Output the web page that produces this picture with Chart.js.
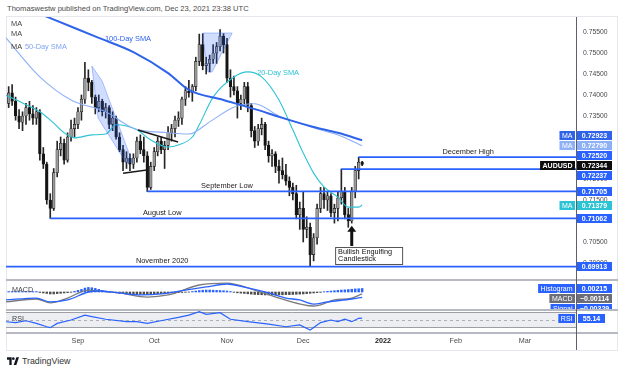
<!DOCTYPE html>
<html>
<head>
<meta charset="utf-8">
<script src="https://cdn.jsdelivr.net/npm/chart.js@4.4.1/dist/chart.umd.min.js"></script>
<style>
  body { margin: 0; background: #fff; font-family: "Liberation Sans", Arial, sans-serif; }
  #page { position: relative; width: 624px; height: 373px; overflow: hidden; }
  .abs { position: absolute; }
  #title { left: 7px; top: 4px; font-size: 7.6px; color: #4a4a4a; white-space: nowrap; }
  #frame { left: 6px; top: 16px; width: 612px; height: 335px; border: 1px solid #e6e8ed; box-sizing: border-box; }
  .sep { left: 6px; width: 612px; height: 2px; background: #b6b9c2; }
  #vsep { left: 576px; top: 17px; width: 1px; height: 333px; background: #5d606b; }
  canvas { position: absolute; }
  #logo { left: 7px; top: 356px; font-size: 8.8px; color: #333; white-space: nowrap; }
  #logo svg { vertical-align: -1px; margin-right: 3px; }
</style>
</head>
<body>
<div id="page">
  <div id="title" class="abs">Thomaswestw published on TradingView.com, Dec 23, 2021 23:38 UTC</div>
  <div id="frame" class="abs"></div>
  <canvas id="mainChart" width="612" height="263" style="left:6px;top:17px"></canvas>
  <canvas id="macdChart" width="612" height="29" style="left:6px;top:281px"></canvas>
  <canvas id="rsiChart" width="612" height="39" style="left:6px;top:311px"></canvas>
  <div class="abs sep" style="top:279px"></div>
  <div class="abs sep" style="top:309px"></div>
  <div class="abs sep" style="top:332px"></div>
  <div id="vsep" class="abs"></div>
  <div id="logo" class="abs"><svg width="12" height="8" viewBox="0 0 36 24"><path d="M14 24H7V8H0V1h14z" fill="#131722"/><circle cx="19" cy="5" r="4" fill="#131722"/><path d="M28 24h-8l8-23h8z" fill="#131722"/></svg>TradingView</div>
</div>
<script>
"use strict";
const FONT = '"Liberation Sans", Arial, sans-serif';
Chart.defaults.font.family = FONT;

// daily candles, Aug 4 2021 .. Dec 24 2021 (bar index 1..103)
const opens = [
  .7380, .7405, .7385, .7350, .7335, .7350, .7370, .7355, .7345, .7360,
  .7260, .7235, .7150, .7130, .7215, .7270, .7285, .7245, .7300, .7320,
  .7330, .7360, .7390, .7440, .7430, .7395, .7370, .7385, .7360, .7370,
  .7330, .7345, .7300, .7270, .7240, .7250, .7235, .7250, .7290, .7270,
  .7255, .7180, .7230, .7265, .7290, .7270, .7280, .7310, .7320, .7340,
  .7345, .7390, .7410, .7405, .7420, .7480, .7520, .7470, .7475, .7485,
  .7500, .7515, .7540, .7520, .7440, .7420, .7410, .7380, .7390, .7420,
  .7375, .7315, .7290, .7320, .7330, .7280, .7255, .7260, .7230, .7220,
  .7210, .7195, .7180, .7165, .7115, .7130, .7080, .7085, .7020, .7060,
  .7130, .7165, .7150, .7160, .7120, .7130, .7155, .7170, .7115, .7100,
  .7170, .7220, .7240
];
const highs = [
  .7420, .7425, .7395, .7365, .7360, .7380, .7385, .7375, .7370, .7365,
  .7275, .7240, .7165, .7225, .7290, .7300, .7295, .7310, .7340, .7345,
  .7370, .7400, .7478, .7460, .7435, .7400, .7400, .7390, .7380, .7375,
  .7360, .7350, .7310, .7280, .7265, .7260, .7260, .7300, .7305, .7300,
  .7265, .7240, .7275, .7300, .7300, .7290, .7325, .7330, .7350, .7360,
  .7395, .7420, .7435, .7425, .7490, .7545, .7546, .7490, .7495, .7520,
  .7525, .7556, .7546, .7535, .7460, .7445, .7420, .7400, .7430, .7430,
  .7380, .7325, .7330, .7345, .7335, .7290, .7270, .7265, .7245, .7250,
  .7235, .7205, .7190, .7185, .7145, .7170, .7110, .7095, .7070, .7140,
  .7180, .7180, .7170, .7165, .7140, .7170, .72237, .7180, .7130, .7180,
  .7230, .7252, .7242
];
const lows = [
  .7370, .7375, .7340, .7320, .7315, .7330, .7340, .7330, .7330, .7245,
  .7225, .7140, .7106, .7125, .7205, .7255, .7235, .7240, .7290, .7300,
  .7320, .7340, .7380, .7410, .7380, .7355, .7360, .7350, .7345, .7320,
  .7315, .7295, .7265, .7220, .7225, .7220, .7225, .7240, .7260, .7240,
  .7170, .7175, .7220, .7255, .7260, .7225, .7270, .7290, .7300, .7325,
  .7330, .7375, .7395, .7385, .7410, .7470, .7460, .7450, .7455, .7475,
  .7475, .7505, .7500, .7430, .7395, .7400, .7345, .7365, .7375, .7360,
  .7300, .7275, .7280, .7305, .7270, .7240, .7230, .7215, .7190, .7200,
  .7185, .7160, .7150, .7105, .7080, .7050, .7060, .6993, .7005, .7045,
  .7120, .7130, .7125, .7110, .7095, .7100, .7140, .7105, .7085, .7095,
  .7155, .7200, .7232
];
const closes = [
  .7405, .7385, .7350, .7335, .7350, .7370, .7355, .7345, .7360, .7260,
  .7235, .7150, .7130, .7215, .7270, .7285, .7245, .7300, .7320, .7330,
  .7360, .7390, .7440, .7430, .7395, .7370, .7385, .7360, .7370, .7330,
  .7345, .7300, .7270, .7240, .7250, .7235, .7250, .7290, .7270, .7255,
  .7180, .7230, .7265, .7290, .7270, .7280, .7310, .7320, .7340, .7345,
  .7390, .7410, .7405, .7420, .7480, .7520, .7470, .7475, .7485, .7500,
  .7515, .7540, .7520, .7440, .7420, .7410, .7380, .7390, .7420, .7375,
  .7315, .7290, .7320, .7330, .7280, .7255, .7260, .7230, .7220, .7210,
  .7195, .7180, .7165, .7115, .7130, .7080, .7085, .7020, .7060, .7130,
  .7165, .7150, .7160, .7120, .7130, .7155, .7170, .7115, .7100, .7170,
  .7220, .7240, .72344
];
const candleIdx = closes.map((_, k) => k + 1);

// moving averages: [bar index, value]
const sma100 = [[1, .7624], [13, .7583], [27, .7536], [37, .7502], [47, .7452], [53, .7412],
  [63, .7388], [73, .7364], [79, .7348], [89, .7324], [96, .7310], [103, .72923]];
const sma50 = [[0, .7538], [10, .7443], [19, .7388], [29, .7360], [37, .7321], [47, .7310],
  [53, .7307], [59, .7336], [66, .7371], [72, .7379], [79, .7350], [89, .7322], [97, .7302], [103, .72790]];
const sma20 = [[0, .7400], [5, .7381], [10, .7360], [14, .7333], [17, .7310], [20, .7298], [25, .7305],
  [29, .7307], [32, .7329], [38, .7317], [42, .7293], [47, .7276], [50, .7281], [54, .7300], [56, .7329],
  [60, .7395], [66, .7443], [70, .7455], [74, .7443], [79, .7388], [83, .7317], [86, .7262], [89, .7214],
  [92, .7181], [96, .7157], [99, .7133], [102, .7133], [103, .71379]];

// horizontal levels
const levelPrices = [0.72520, 0.72237, 0.71705, 0.71062, 0.69913];
const levelStartIdx = [102, 97, 41, 13, 0];
const levelNames = ['December High', '', 'September Low', 'August Low', 'November 2020'];

// MACD pane
const macdLine = [[0, -.0061], [9, -.0043], [13, -.0067], [18, -.0037], [24, .0012], [27, .0006], [33, -.0006],
  [41, -.0031], [47, -.0018], [56, .0043], [64, .0055], [72, .0012], [79, -.0037], [89, -.0086], [95, -.0049],
  [100, -.0037], [103, -.00114]];
const signalLine = [[0, -.0049], [9, -.0037], [13, -.0061], [18, -.0049], [24, 0], [27, .0006], [33, -.0006],
  [39, -.0018], [45, -.0012], [52, .0012], [58, .0031], [64, .0049], [70, .0025], [76, -.0006], [81, -.0037],
  [85, -.0049], [89, -.0074], [93, -.0061], [100, -.0043], [103, -.00329]];
const histogram = [
  .0003, .0003, .0003, .0003, .0003, .0003, .0003, .0003, .0003,
  -.0003, -.0006, -.0009, -.0012, -.0012, -.0010, -.0008, -.0006, -.0004, -.0002,
  .0004, .0010, .0016, .0024, .0028, .0026, .0022, .0016, .0010,
  .0005, .0002, -.0002,
  -.0005, -.0008, -.0010, -.0012, -.0014, -.0015, -.0015, -.0014, -.0015, -.0016, -.0015,
  -.0013, -.0011, -.0010, -.0008, -.0007, -.0006, -.0005, -.0004, -.0003, -.0002, -.0001,
  .0003, .0006, .0009, .0011, .0012, .0012, .0011, .0010, .0009, .0008, .0006, .0003,
  -.0002, -.0005, -.0007, -.0009, -.0011, -.0013, -.0015, -.0016, -.0017, -.0018, -.0018, -.0018, -.0018,
  -.0017, -.0017, -.0016, -.0016, -.0015, -.0014, -.0013, -.0012, -.0010, -.0008, -.0006, -.0004, -.0002,
  .0002, .0004, .0006, .0008, .0010, .0012, .0013, .0015, .0017, .0019, .0020, .00215
];

// RSI pane
const rsi = [[0, 45.5], [3, 42.8], [6, 48], [9, 41], [12, 32], [13, 29.5], [15, 41], [19, 50], [23, 63],
  [25, 59], [29, 52], [35, 45.5], [38, 45.5], [41, 41], [46, 50], [50, 57], [53, 63], [56, 72], [58, 65],
  [62, 69.5], [65, 52], [70, 45.5], [76, 39], [81, 32], [85, 36.7], [88, 23.4], [91, 43], [94, 50],
  [96, 45.5], [98, 52], [100, 45.5], [102, 54.5], [103, 55.14]];

// time axis
const monthTickIdx = [21, 43, 64, 86, 109, 130, 150];
const monthLabels = ['Sep', 'Oct', 'Nov', 'Dec', '2022', 'Feb', 'Mar'];

const xMin = 0.23, xMax = 165;
const priceMin = 0.69595, priceMax = 0.75857;

const BLUE = '#2962ff';
const C100 = '#2f63ea', C50 = '#8db0f6', C20 = '#2cc3d5';
const UP_BODY = '#9a9a9a', DOWN_BODY = '#141414';

const pts = arr => arr.map(p => ({ x: p[0], y: p[1] }));
const noPad = s => { s.paddingTop = 0; s.paddingBottom = 0; s.paddingLeft = 0; s.paddingRight = 0; };

// spread overlapping axis labels like TradingView does
function spread(items, gap) {
  let groups = items.slice().sort((a, b) => a.y - b.y).map(it => ({ m: [it] }));
  const centre = g => g.m.reduce((s, it) => s + it.y, 0) / g.m.length;
  let merged = true;
  while (merged) {
    merged = false;
    for (let k = 0; k < groups.length - 1; k++) {
      const a = groups[k], b = groups[k + 1];
      if (centre(a) + a.m.length * gap / 2 > centre(b) - b.m.length * gap / 2) {
        a.m = a.m.concat(b.m);
        groups.splice(k + 1, 1);
        merged = true;
        break;
      }
    }
  }
  groups.forEach(g => {
    const c = centre(g), n = g.m.length;
    g.m.forEach((it, j) => { it.pos = c - (n - 1) * gap / 2 + j * gap; });
  });
}

function tagBox(ctx, right, y, text, bg, bold) {
  ctx.font = (bold ? 'bold ' : '') + '7px ' + FONT;
  const w = ctx.measureText(text).width + 5;
  ctx.fillStyle = bg;
  ctx.fillRect(right - w, Math.round(y - 4.5), w, 9);
  ctx.fillStyle = '#fff';
  ctx.textAlign = 'center';
  ctx.textBaseline = 'middle';
  ctx.fillText(text, right - w / 2, y + 0.5);
}

function valueBox(ctx, left, w, y, text, bg) {
  ctx.fillStyle = bg;
  ctx.fillRect(left, Math.round(y - 4.5), w, 9);
  ctx.font = 'bold 7px ' + FONT;
  ctx.fillStyle = '#fff';
  ctx.textAlign = 'center';
  ctx.textBaseline = 'middle';
  ctx.fillText(text, left + w / 2, y + 0.5);
}

const fmtNeg = (v, d) => (v < 0 ? '\u2212' : '') + Math.abs(v).toFixed(d);

const mainDraw = {
  id: 'mainDraw',
  afterDatasetsDraw(chart) {
    const { ctx, chartArea: area, scales: { x, y } } = chart;
    const X = i => x.getPixelForValue(i), Y = p => y.getPixelForValue(p);
    ctx.save();
    ctx.beginPath();
    ctx.rect(area.left, area.top, area.right - area.left, area.bottom - area.top);
    ctx.clip();

    // light blue pattern highlights
    ctx.fillStyle = 'rgba(41,98,255,0.22)';
    ctx.strokeStyle = 'rgba(41,98,255,0.35)';
    ctx.lineWidth = 1;
    [[[57.1, .75476], [65.5, .75476], [59.7, .74548], [58.5, .74548], [57.1, .7531]],
     [[25.0, .7469], [28.0, .7433], [36.7, .7240], [34.8, .7240], [26.8, .7345]]].forEach(poly => {
      ctx.beginPath();
      poly.forEach((p, k) => (k ? ctx.lineTo(X(p[0]), Y(p[1])) : ctx.moveTo(X(p[0]), Y(p[1]))));
      ctx.closePath();
      ctx.fill();
      ctx.stroke();
    });

    // black trend lines
    ctx.strokeStyle = '#1b1b1b';
    ctx.lineWidth = 1.5;
    [[[38.3, .73167], [49.9, .72881]], [[34.0, .72136], [40.9, .72214]]].forEach(l => {
      ctx.beginPath();
      ctx.moveTo(X(l[0][0]), Y(l[0][1]));
      ctx.lineTo(X(l[1][0]), Y(l[1][1]));
      ctx.stroke();
    });

    // levels
    const labelAt = [133.6, null, 64, 45.3, 45.3];
    ctx.strokeStyle = BLUE;
    ctx.lineWidth = 1.8;
    levelPrices.forEach((p, k) => {
      const yy = Y(p);
      ctx.beginPath();
      ctx.moveTo(X(levelStartIdx[k]), yy);
      ctx.lineTo(area.right, yy);
      ctx.stroke();
      if (levelNames[k]) {
        ctx.font = '7.4px ' + FONT;
        ctx.fillStyle = '#222';
        ctx.textAlign = 'center';
        ctx.textBaseline = 'bottom';
        ctx.fillText(levelNames[k], X(labelAt[k]), yy - 1.5);
      }
    });

    // arrow to the bullish engulfing candle
    const ax = X(100), aTop = Y(.70885), aBot = Y(.70405);
    ctx.fillStyle = '#111';
    ctx.fillRect(ax - 1.5, aTop + 5, 3, aBot - aTop - 5);
    ctx.beginPath();
    ctx.moveTo(ax, aTop);
    ctx.lineTo(ax - 4.5, aTop + 6);
    ctx.lineTo(ax + 4.5, aTop + 6);
    ctx.closePath();
    ctx.fill();

    // annotation box
    const bx = X(95.2), by = Y(.70381);
    ctx.fillStyle = '#fff';
    ctx.fillRect(bx, by, 67, 17);
    ctx.strokeStyle = '#555';
    ctx.lineWidth = 1;
    ctx.strokeRect(bx + 0.5, by + 0.5, 67, 17);
    ctx.fillStyle = '#111';
    ctx.font = '7.3px ' + FONT;
    ctx.textAlign = 'left';
    ctx.textBaseline = 'middle';
    ctx.fillText('Bullish Engulfing', bx + 3, by + 5.5);
    ctx.fillText('Candlestick', bx + 3, by + 12.5);

    // text labels
    ctx.font = '7.4px ' + FONT;
    ctx.textBaseline = 'middle';
    ctx.fillStyle = C100;
    ctx.fillText('100-Day SMA', X(28.8), Y(.75333));
    ctx.fillStyle = C20;
    ctx.fillText('20-Day SMA', X(72.7), Y(.74524));
    ctx.fillStyle = '#7ea4f3';
    ctx.fillText('50-Day SMA', X(5.7), Y(.75143));
    ctx.fillStyle = '#444';
    ctx.fillText('MA', area.left + 5, area.top + 7);
    ctx.fillText('MA', area.left + 5, area.top + 17);
    ctx.fillText('MA', area.left + 5, area.top + 30);
    ctx.restore();

    // price scale boxes
    const last = a => a[a.length - 1][1];
    const items = [
      { p: last(sma100), tag: 'MA', bg: C100 },
      { p: last(sma50), tag: 'MA', bg: C50 },
      { p: levelPrices[0], bg: BLUE },
      { p: closes[closes.length - 1], tag: 'AUDUSD', bg: '#0d0d0d' },
      { p: levelPrices[1], bg: BLUE },
      { p: levelPrices[2], bg: BLUE },
      { p: last(sma20), tag: 'MA', bg: C20 },
      { p: levelPrices[3], bg: BLUE },
      { p: levelPrices[4], bg: BLUE }
    ];
    items.forEach(it => { it.y = Y(it.p); });
    spread(items, 10);
    ctx.save();
    items.forEach(it => {
      valueBox(ctx, area.right, 35, it.pos, it.p.toFixed(5), it.bg);
      if (it.tag) tagBox(ctx, area.right - 2, it.pos, it.tag, it.bg, it.tag === 'AUDUSD');
    });
    ctx.restore();
  }
};

new Chart(document.getElementById('mainChart'), {
  type: 'bar',
  data: {
    datasets: [
      {
        type: 'line', data: pts(sma100), borderColor: C100, borderWidth: 2,
        pointRadius: 0, cubicInterpolationMode: 'monotone', order: 1
      },
      {
        type: 'line', data: pts(sma50), borderColor: C50, borderWidth: 1.1,
        pointRadius: 0, cubicInterpolationMode: 'monotone', order: 2
      },
      {
        type: 'line', data: pts(sma20), borderColor: C20, borderWidth: 1.1,
        pointRadius: 0, cubicInterpolationMode: 'monotone', order: 3
      },
      {
        data: candleIdx.map((i, k) => ({ x: i, y: [lows[k], highs[k]] })),
        backgroundColor: '#262626', barThickness: 1, grouped: false, order: 5
      },
      {
        data: candleIdx.map((i, k) => ({ x: i, y: [opens[k], closes[k]] })),
        backgroundColor: closes.map((c, k) => (c >= opens[k] ? UP_BODY : DOWN_BODY)),
        borderColor: '#1a1a1a', borderWidth: 0.6, borderSkipped: false,
        barThickness: 2.7, minBarLength: 1, grouped: false, order: 4
      }
    ]
  },
  options: {
    responsive: false, animation: false, devicePixelRatio: 1,
    layout: { padding: 0 },
    plugins: { legend: { display: false }, tooltip: { enabled: false } },
    scales: {
      x: { type: 'linear', min: xMin, max: xMax, offset: false, display: false },
      y: {
        position: 'right', min: priceMin, max: priceMax,
        afterFit: s => { s.width = 41; noPad(s); },
        grid: { display: false, drawTicks: false },
        border: { display: false },
        ticks: {
          stepSize: 0.005, includeBounds: false, autoSkip: false, padding: 6,
          color: '#4a4a4a', font: { size: 6.8 }, callback: v => v.toFixed(5)
        }
      }
    }
  },
  plugins: [mainDraw]
});

// MACD
const macdMin = -0.011043, macdMax = 0.006748;
const macdDraw = {
  id: 'macdDraw',
  afterDatasetsDraw(chart) {
    const { ctx, chartArea: area, scales: { y } } = chart;
    ctx.save();
    ctx.font = '7.2px ' + FONT;
    ctx.fillStyle = '#444';
    ctx.textAlign = 'left';
    ctx.textBaseline = 'middle';
    ctx.fillText('MACD', area.left + 6, 9);
    const items = [
      { v: histogram[histogram.length - 1], tag: 'Histogram', bg: BLUE },
      { v: macdLine[macdLine.length - 1][1], tag: 'MACD', bg: '#6b6e78' },
      { v: signalLine[signalLine.length - 1][1], tag: 'Signal', bg: BLUE }
    ];
    let prev = -Infinity;
    items.forEach(it => {
      it.pos = Math.max(y.getPixelForValue(it.v), prev + 10);
      prev = it.pos;
      valueBox(ctx, area.right, 35, it.pos, fmtNeg(it.v, 5), it.bg);
      tagBox(ctx, area.right - 2, it.pos, it.tag, it.bg, false);
    });
    ctx.restore();
  }
};

new Chart(document.getElementById('macdChart'), {
  type: 'bar',
  data: {
    datasets: [
      {
        type: 'line', data: pts(signalLine), borderColor: BLUE, borderWidth: 1.3,
        pointRadius: 0, cubicInterpolationMode: 'monotone', order: 1
      },
      {
        type: 'line', data: pts(macdLine), borderColor: '#7b7b7b', borderWidth: 1.3,
        pointRadius: 0, cubicInterpolationMode: 'monotone', order: 2
      },
      {
        data: candleIdx.map((i, k) => ({ x: i, y: histogram[k] })),
        backgroundColor: histogram.map(v => (v >= 0 ? BLUE : '#4d4d4d')),
        barThickness: 1.8, grouped: false, order: 3
      }
    ]
  },
  options: {
    responsive: false, animation: false, devicePixelRatio: 1,
    layout: { padding: { right: 41 } },
    plugins: { legend: { display: false }, tooltip: { enabled: false } },
    scales: {
      x: { type: 'linear', min: xMin, max: xMax, offset: false, display: false },
      y: { min: macdMin, max: macdMax, display: false }
    }
  },
  plugins: [macdDraw]
});

// RSI
const rsiMin = 15.33, rsiMax = 74;
const rsiDraw = {
  id: 'rsiDraw',
  beforeDatasetsDraw(chart) {
    const { ctx, chartArea: area, scales: { y } } = chart;
    const y70 = y.getPixelForValue(70), y30 = y.getPixelForValue(30), y50 = y.getPixelForValue(50);
    ctx.save();
    ctx.fillStyle = '#eceef1';
    ctx.fillRect(area.left, y70, area.right - area.left, y30 - y70);
    ctx.strokeStyle = '#9d9fa6';
    ctx.lineWidth = 1;
    [y70, y30].forEach(yy => {
      ctx.beginPath();
      ctx.moveTo(area.left, Math.round(yy) + 0.5);
      ctx.lineTo(area.right, Math.round(yy) + 0.5);
      ctx.stroke();
    });
    ctx.setLineDash([3, 3]);
    ctx.strokeStyle = '#aeb0b6';
    ctx.beginPath();
    ctx.moveTo(area.left, Math.round(y50) + 0.5);
    ctx.lineTo(area.right, Math.round(y50) + 0.5);
    ctx.stroke();
    ctx.restore();
  },
  afterDatasetsDraw(chart) {
    const { ctx, chartArea: area, scales: { y } } = chart;
    ctx.save();
    ctx.font = '7.2px ' + FONT;
    ctx.fillStyle = '#444';
    ctx.textAlign = 'left';
    ctx.textBaseline = 'middle';
    ctx.fillText('RSI', area.left + 6, 8);
    const v = rsi[rsi.length - 1][1];
    const yy = y.getPixelForValue(v);
    valueBox(ctx, area.right + 1, 27, yy, v.toFixed(2), BLUE);
    tagBox(ctx, area.right - 2, yy, 'RSI', BLUE, false);
    ctx.restore();
  }
};

new Chart(document.getElementById('rsiChart'), {
  type: 'line',
  data: {
    datasets: [{
      data: pts(rsi), borderColor: BLUE, borderWidth: 1.2, pointRadius: 0, tension: 0
    }]
  },
  options: {
    responsive: false, animation: false, devicePixelRatio: 1,
    layout: { padding: { right: 41 } },
    plugins: { legend: { display: false }, tooltip: { enabled: false } },
    scales: {
      x: {
        type: 'linear', min: xMin, max: xMax, offset: false, position: 'bottom',
        afterFit: s => { s.height = 17; noPad(s); },
        afterBuildTicks: s => { s.ticks = monthTickIdx.map(v => ({ value: v })); },
        grid: { display: false, drawTicks: false },
        border: { display: false },
        ticks: {
          autoSkip: false, maxRotation: 0, padding: 4,
          color: ctx => (ctx.tick && ctx.tick.value === 109 ? '#222' : '#4a4a4a'),
          font: ctx => ({ size: 7.2, weight: ctx.tick && ctx.tick.value === 109 ? 'bold' : 'normal' }),
          callback: v => monthLabels[monthTickIdx.indexOf(v)]
        }
      },
      y: { min: rsiMin, max: rsiMax, display: false }
    }
  },
  plugins: [rsiDraw]
});
</script>
</body>
</html>
